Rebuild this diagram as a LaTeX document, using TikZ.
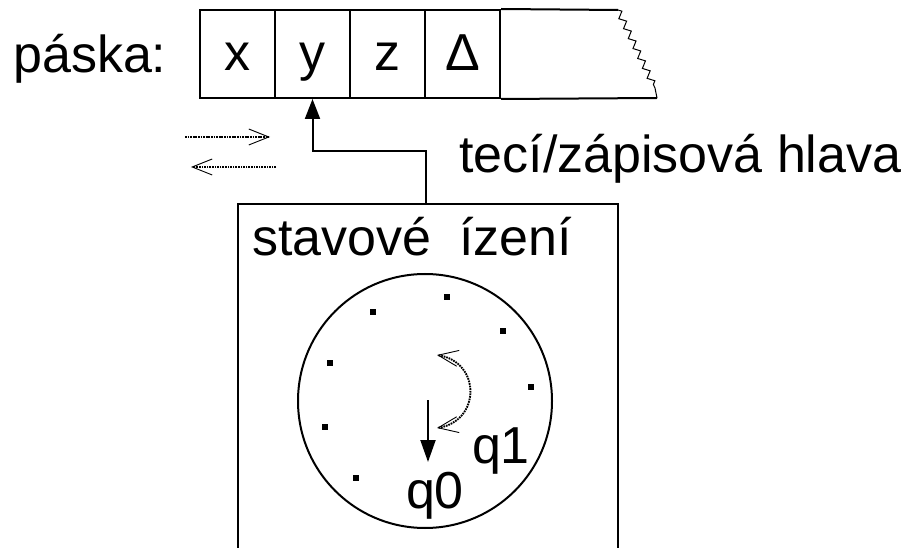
\documentclass[tikz,border=0pt]{standalone}
\usepackage{fontspec}
\setmainfont{Liberation Sans}
\usetikzlibrary{arrows.meta,decorations.pathmorphing}
\begin{document}
\begin{tikzpicture}[x=1pt,y=-1pt,line join=miter,
  big/.style={font=\fontsize{52}{62}\selectfont, inner sep=0pt},
  cell/.style={draw, line width=2pt, minimum width=75pt, minimum height=88pt,
    text height=41pt, text depth=8pt, inner sep=0pt, font=\fontsize{52}{62}\selectfont},
  dotsq/.style={fill, minimum size=6pt, inner sep=0pt},
  dotline/.style={line width=2.4pt, dash pattern=on 1.7pt off 0.9pt},
  barb/.tip={Straight Barb[length=20pt,width=16pt,line width=0.9pt]},
  conn/.style={line width=2pt}
]
\useasboundingbox (0,0) rectangle (916,548);

% tape
\node[big, anchor=base west] (tapelbl) at (13,73) {páska:};
\node[cell] (c1) at (237.5,54) {x};
\node[cell] (c2) at (312.5,54) {y};
\node[cell] (c3) at (387.5,54) {z};
\node[cell] (c4) at (462.5,54) {Δ};
\coordinate (tt) at (618,10);
\coordinate (tz) at (655,88);
\coordinate (tb) at (657,98);
\draw[line width=2pt] (c4.north east) -- (tt);
\draw[line width=2pt] (c4.south east) -- (tb);
\draw[line width=1pt] (tt) decorate[decoration={zigzag,segment length=11pt,amplitude=3pt}] { -- (tz)} -- (tb);

% movement arrows
\coordinate (r0) at (185,137);
\coordinate (r1) at (270,137);
\coordinate (l0) at (276,167);
\coordinate (l1) at (191,167);
\draw[dotline, -{barb}] (r0) -- (r1);
\draw[dotline, -{barb}] (l0) -- (l1);

% control box
\node[draw, line width=2pt, minimum width=380pt, minimum height=380pt, inner sep=0pt] (ctrl) at (428,394) {};
\draw[conn, -{Triangle[length=20pt,width=15pt]}] ([xshift=-2pt]ctrl.north) -- ++(0,-52) -| (c2.south);
\node[big, anchor=base west] (headlbl) at (459,173) {tecí/zápisová hlava};
\node[big, anchor=base west] (ctrllbl) at (252,255) {stavové\hspace{28pt}ízení};

% clock
\node[draw, circle, line width=2pt, minimum size=254pt, inner sep=0pt] (clock) at (425,401) {};
\node[dotsq] (d1) at (447,297) {};
\node[dotsq] (d2) at (373,312) {};
\node[dotsq] (d3) at (503,331) {};
\node[dotsq] (d4) at (330,363) {};
\node[dotsq] (d5) at (531,387) {};
\node[dotsq] (d6) at (325,427) {};
\node[dotsq] (d7) at (356,478) {};

\coordinate (a0) at (428,400);
\coordinate (a1) at (428,462);
\draw[conn, -{Triangle[length=22pt,width=15pt]}] (a0) -- (a1);

\coordinate (k0) at (437,355);
\coordinate (k1) at (437,428);
\draw[dotline, line width=1.9pt, {barb}-{barb}] (k0) .. controls (481,362) and (481,421) .. (k1);

\node[big, anchor=base] (q1) at (501,463) {q1};
\node[big, anchor=base] (q0) at (435,508) {q0};
\end{tikzpicture}
\end{document}
